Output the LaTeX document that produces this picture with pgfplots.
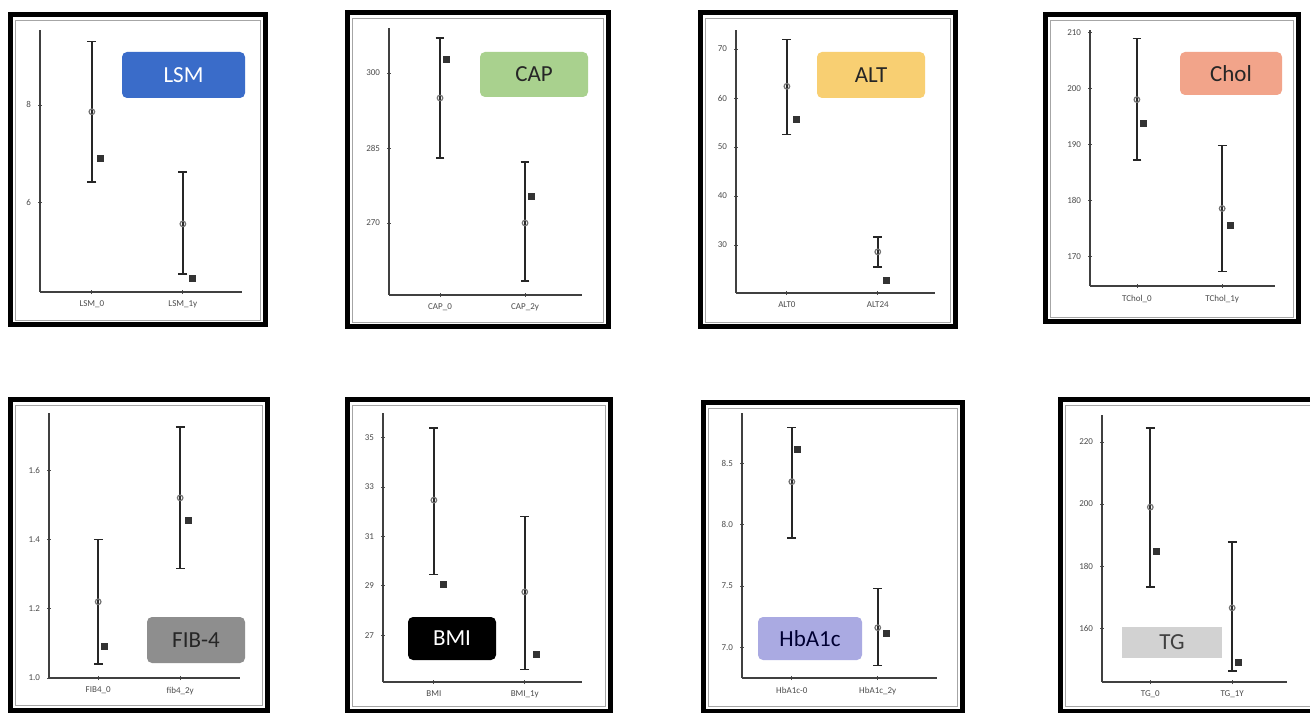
\documentclass[border=0pt]{standalone}
\usepackage{fontspec}
\setmainfont{Carlito}
\usepackage{pgfplots}
\pgfplotsset{compat=1.18}
\definecolor{lsmc}{HTML}{3A6CC9}
\definecolor{capc}{HTML}{A9D18E}
\definecolor{altc}{HTML}{F8CF72}
\definecolor{cholc}{HTML}{F2A48A}
\definecolor{fibc}{HTML}{8E8E8E}
\definecolor{hbac}{HTML}{AAAAE2}
\definecolor{tgc}{HTML}{D2D2D2}
\pgfplotsset{
 panel/.style={
  scale only axis, anchor=south west,
  axis x line=bottom, axis y line=left,
  axis line style={-, line width=0.7pt, black!75},
  xtick={0,1},
  tick style={black!70, line width=0.4pt},
  major tick length=2pt,
  tick label style={font=\fontsize{4.5}{5}\selectfont, text=black!70},
  /pgf/number format/assume math mode=true,
  clip=false,
 },
 ebar/.style={only marks, color=black!55, mark=o, mark size=1.4pt, mark options={line width=0.6pt, fill=white},
   error bars/.cd, y dir=both, y explicit,
   error bar style={line width=0.85pt, black!85},
   error mark options={rotate=90, mark size=2.2pt, line width=0.75pt, black!85}},
 pnt/.style={only marks, color=black!80, mark=square*, mark size=1.5pt, mark options={fill=black!80}},
}
\tikzset{frame/.style={line width=2.5pt, black},
 lab/.style={rounded corners=2.5pt, inner sep=0pt, font=\fontsize{11.5}{12}\selectfont}}
\begin{document}
\begin{tikzpicture}
\path[use as bounding box, fill=white] (0,0) rectangle (655pt,356pt);
% frames
\draw[frame] (5pt,193.5pt) rectangle (132.5pt,348.5pt);
\draw[frame] (173.5pt,192.5pt) rectangle (304pt,349.5pt);
\draw[frame] (350pt,192.5pt) rectangle (477.5pt,349.5pt);
\draw[frame] (522.5pt,195pt) rectangle (649pt,348.5pt);
\draw[frame] (5pt,1pt) rectangle (133.5pt,156pt);
\draw[frame] (173.5pt,0.5pt) rectangle (305pt,156pt);
\draw[frame] (351.5pt,0.5pt) rectangle (481pt,154.5pt);
\draw[frame] (530pt,0.5pt) rectangle (662pt,156pt);
\draw[black!35, line width=0.4pt] (7.5pt,196pt) rectangle (130pt,346pt);
\draw[black!35, line width=0.4pt] (176pt,195pt) rectangle (301.5pt,347pt);
\draw[black!35, line width=0.4pt] (352.5pt,195pt) rectangle (475pt,347pt);
\draw[black!35, line width=0.4pt] (525pt,197.5pt) rectangle (646.5pt,346pt);
\draw[black!35, line width=0.4pt] (7.5pt,3.5pt) rectangle (131pt,153.5pt);
\draw[black!35, line width=0.4pt] (176pt,3pt) rectangle (302.5pt,153.5pt);
\draw[black!35, line width=0.4pt] (354pt,3pt) rectangle (478.5pt,152pt);
\draw[black!35, line width=0.4pt] (532.5pt,3pt) rectangle (662pt,153.5pt);

% 1 LSM
\begin{axis}[panel, at={(20pt,210pt)}, width=101pt, height=131pt,
  xmin=-0.57, xmax=1.65, ymin=4.18, ymax=9.53, ytick={6,8},
  xticklabels={LSM\_0, LSM\_1y}]
\addplot[ebar] coordinates {(0,7.86) += (0,1.44) -= (0,1.43) (1,5.57) += (0,1.06) -= (0,1.02)};
\addplot[pnt] coordinates {(0.09,6.9) (1.1,4.45)};
\end{axis}
% 2 CAP
\begin{axis}[panel, at={(194.5pt,208.5pt)}, width=96.5pt, height=133.5pt,
  xmin=-0.6, xmax=1.67, ymin=255.6, ymax=309, ytick={270,285,300},
  xticklabels={CAP\_0, CAP\_2y}]
\addplot[ebar] coordinates {(0,295) += (0,12) -= (0,12) (1,270) += (0,12.2) -= (0,11.6)};
\addplot[pnt] coordinates {(0.07,302.8) (1.07,275.4)};
\end{axis}
% 3 ALT
\begin{axis}[panel, at={(368pt,209.5pt)}, width=99.5pt, height=131.5pt,
  xmin=-0.56, xmax=1.63, ymin=20.2, ymax=73.9, ytick={30,40,50,60,70},
  xticklabels={ALT0, ALT24}]
\addplot[ebar] coordinates {(0,62.4) += (0,9.6) -= (0,9.8) (1,28.6) += (0,3.0) -= (0,3.1)};
\addplot[pnt] coordinates {(0.1,55.7) (1.1,22.7)};
\end{axis}
% 4 Chol
\begin{axis}[panel, at={(545pt,213pt)}, width=92.5pt, height=128pt,
  xmin=-0.55, xmax=1.62, ymin=164.8, ymax=210.4, ytick={170,180,190,200,210},
  xticklabels={TChol\_0, TChol\_1y}]
\addplot[ebar] coordinates {(0,198) += (0,10.9) -= (0,10.8) (1,178.6) += (0,11.2) -= (0,11.2)};
\addplot[pnt] coordinates {(0.08,193.8) (1.1,175.6)};
\end{axis}
% 5 FIB-4
\begin{axis}[panel, at={(24.5pt,17pt)}, width=95.5pt, height=132.5pt,
  xmin=-0.6, xmax=1.73, ymin=1.0, ymax=1.765, ytick={1.0,1.2,1.4,1.6},
  yticklabel style={/pgf/number format/.cd, fixed, fixed zerofill, precision=1},
  xticklabels={FIB4\_0, fib4\_2y}]
\addplot[ebar] coordinates {(0,1.22) += (0,0.18) -= (0,0.18) (1,1.52) += (0,0.205) -= (0,0.204)};
\addplot[pnt] coordinates {(0.08,1.09) (1.1,1.455)};
\end{axis}
% 6 BMI
\begin{axis}[panel, at={(191.5pt,15pt)}, width=99.5pt, height=134.5pt,
  xmin=-0.56, xmax=1.63, ymin=25.1, ymax=36.0, ytick={27,29,31,33,35},
  xticklabels={BMI, BMI\_1y}]
\addplot[ebar] coordinates {(0,32.47) += (0,2.93) -= (0,3.02) (1,28.75) += (0,3.05) -= (0,3.15)};
\addplot[pnt] coordinates {(0.1,29.04) (1.13,26.2)};
\end{axis}
% 7 HbA1c
\begin{axis}[panel, at={(371pt,17pt)}, width=97.5pt, height=132.5pt,
  xmin=-0.58, xmax=1.69, ymin=6.75, ymax=8.91, ytick={7.0,7.5,8.0,8.5},
  yticklabel style={/pgf/number format/.cd, fixed, fixed zerofill, precision=1},
  xticklabels={HbA1c-0, HbA1c\_2y}]
\addplot[ebar] coordinates {(0,8.35) += (0,0.44) -= (0,0.46) (1,7.16) += (0,0.32) -= (0,0.31)};
\addplot[pnt] coordinates {(0.07,8.61) (1.1,7.11)};
\end{axis}
% 8 TG
\begin{axis}[panel, at={(551pt,15pt)}, width=92.5pt, height=133.5pt,
  xmin=-0.59, xmax=1.67, ymin=142.6, ymax=228.7, ytick={160,180,200,220},
  xticklabels={TG\_0, TG\_1Y}]
\addplot[ebar] coordinates {(0,199) += (0,25.5) -= (0,25.8) (1,166.5) += (0,21.2) -= (0,20.4)};
\addplot[pnt] coordinates {(0.07,184.8) (1.07,149)};
\end{axis}

% label boxes
\node[lab, fill=lsmc, text=white, minimum width=61.5pt, minimum height=23pt] at (91.75pt,318.5pt) {LSM};
\node[lab, fill=capc, text=black!85, minimum width=54pt, minimum height=22.5pt] at (267pt,318.75pt) {CAP};
\node[lab, fill=altc, text=black!85, minimum width=54pt, minimum height=23pt] at (435.5pt,318.5pt) {ALT};
\node[lab, fill=cholc, text=black!85, minimum width=51pt, minimum height=21.5pt] at (615.5pt,319.25pt) {Chol};
\node[lab, fill=fibc, text=black!85, minimum width=49pt, minimum height=23pt] at (98pt,36pt) {FIB-4};
\node[lab, fill=black, text=white, minimum width=44pt, minimum height=21.5pt] at (226pt,36.75pt) {BMI};
\node[lab, fill=hbac, text=black!80!blue, minimum width=52pt, minimum height=21.5pt] at (405pt,36.75pt) {HbA1c};
\node[lab, rounded corners=0pt, fill=tgc, text=black!75, minimum width=50pt, minimum height=15.5pt] at (586pt,34.75pt) {TG};
\end{tikzpicture}
\end{document}
